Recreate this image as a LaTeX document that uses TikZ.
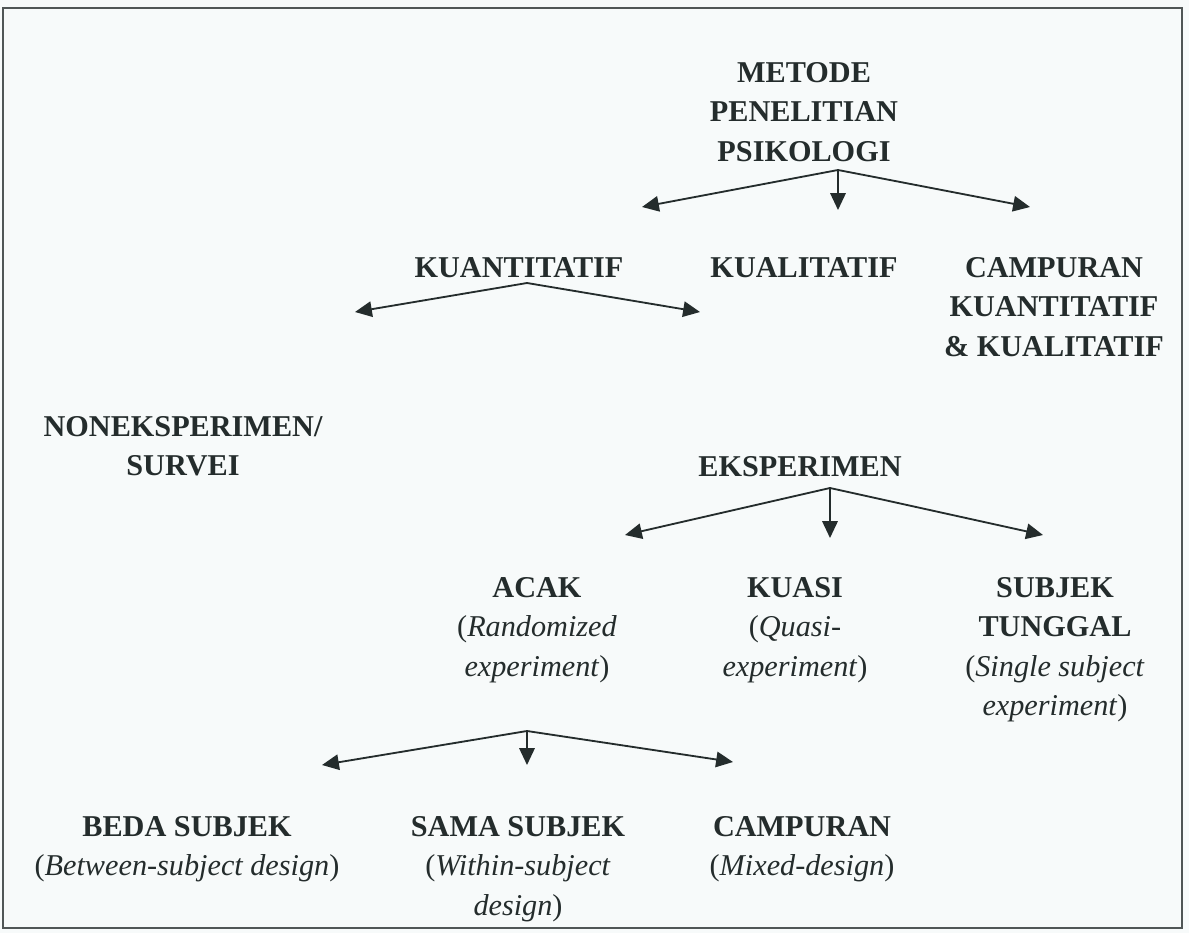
\documentclass[tikz,border=0pt]{standalone}
\usepackage{fontspec}
\setmainfont{Liberation Serif}
\usetikzlibrary{arrows.meta,positioning}
\definecolor{inkgray}{RGB}{36,44,44}
\definecolor{paper}{RGB}{247,250,250}
\newcommand{\plain}[1]{{\normalfont #1}}
\tikzset{
  txtnode/.style={align=center,inner sep=0pt,anchor=north,text=inkgray,
    font=\fontsize{21.5pt}{28.1pt}\selectfont\bfseries},
  branch/.style={-{Triangle[length=12pt,width=11pt]},line width=1.3pt,draw=inkgray}
}
\begin{document}
\begin{tikzpicture}[x=0.025cm,y=-0.025cm]
	\fill[paper] (0,0) rectangle (1189,933);
	\useasboundingbox (0,0) rectangle (1189,933);
	\draw[line width=1.1pt,inkgray!80] (3,8) rectangle (1182,928);
	% top level
	\node[txtnode] (metode) at (804,62) {METODE\\PENELITIAN\\PSIKOLOGI};
	\node[txtnode] (kuanti) at (519,257) {KUANTITATIF};
	\node[txtnode] (kuali) at (804,257) {KUALITATIF};
	\node[txtnode] (campur) at (1054,257) {CAMPURAN\\KUANTITATIF\\\& KUALITATIF};
	% second level
	\node[txtnode] (noneks) at (183,416) {NONEKSPERIMEN/\\SURVEI};
	\node[txtnode] (eksp) at (800,456) {EKSPERIMEN};
	\node[txtnode] (acak) at (537,577) {ACAK\\\plain{(\textit{Randomized}}\\\plain{\textit{experiment})}};
	\node[txtnode] (kuasi) at (795,577) {KUASI\\\plain{(\textit{Quasi-}}\\\plain{\textit{experiment})}};
	\node[txtnode] (tunggal) at (1055,577) {SUBJEK\\TUNGGAL\\\plain{(\textit{Single subject}}\\\plain{\textit{experiment})}};
	% third level
	\node[txtnode] (beda) at (187,816) {BEDA SUBJEK\\\plain{(\textit{Between-subject design})}};
	\node[txtnode] (sama) at (518,816) {SAMA SUBJEK\\\plain{(\textit{Within-subject}}\\\plain{\textit{design})}};
	\node[txtnode] (mixed) at (802,816) {CAMPURAN\\\plain{(\textit{Mixed-design})}};
	% forks
	\coordinate (fork1) at (838,170);
	\coordinate (fork2) at (527,283);
	\coordinate (fork3) at (830,488);
	\coordinate (fork4) at (527,731);
	\draw[branch] (fork1) -- (642,207);
	\draw[branch] (fork1) -- (838,210);
	\draw[branch] (fork1) -- (1030,207);
	\draw[branch] (fork2) -- (355,312);
	\draw[branch] (fork2) -- (700,312);
	\draw[branch] (fork3) -- (625,535);
	\draw[branch] (fork3) -- (830,538);
	\draw[branch] (fork3) -- (1043,535);
	\draw[branch] (fork4) -- (322,765);
	\draw[branch] (fork4) -- (527,765);
	\draw[branch] (fork4) -- (733,762);
\end{tikzpicture}
\end{document}
